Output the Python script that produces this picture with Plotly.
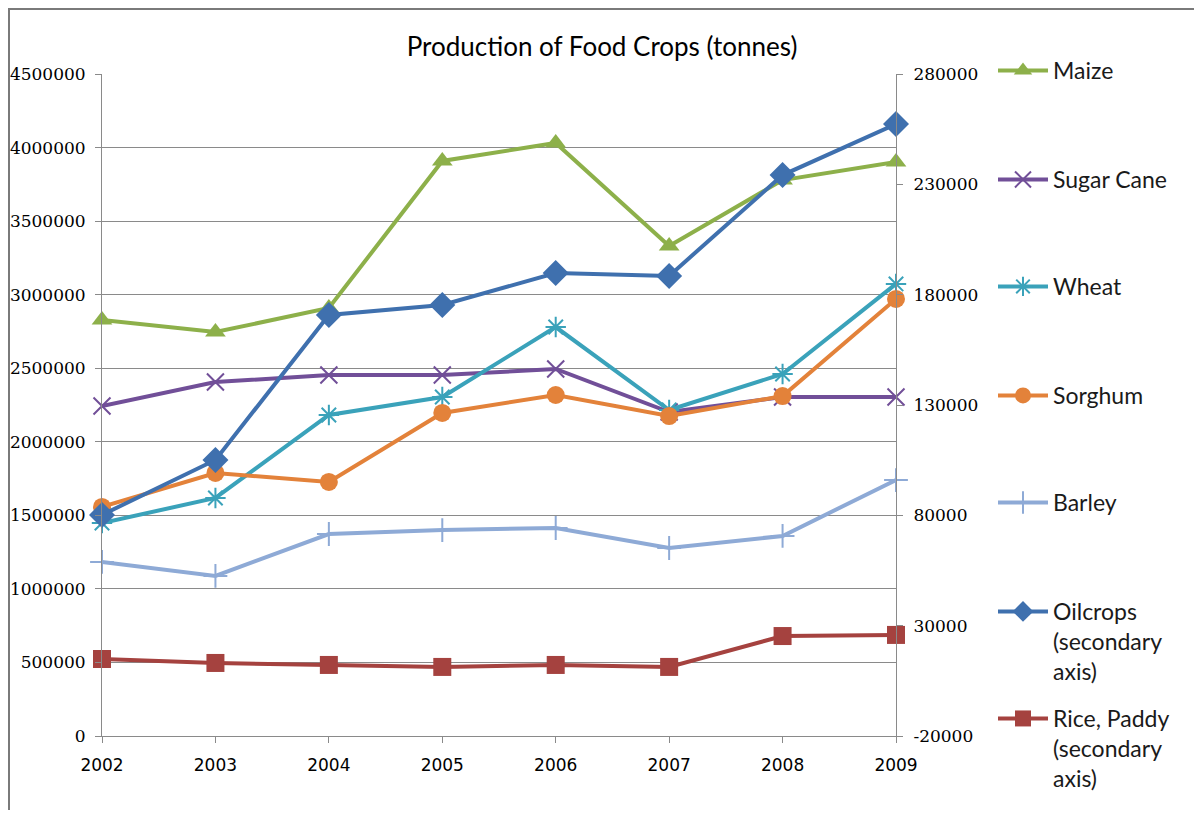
import plotly.graph_objects as go

# Data
years = [2002, 2003, 2004, 2005, 2006, 2007, 2008, 2009]

maize = [2828000, 2746000, 2909000, 3909000, 4031000, 3331000, 3779000, 3902000]
sugar_cane = [2243000, 2406000, 2454000, 2454000, 2495000, 2202000, 2304000, 2304000]
wheat = [1448000, 1618000, 2182000, 2304000, 2780000, 2216000, 2461000, 3073000]
sorghum = [1557000, 1788000, 1727000, 2196000, 2318000, 2175000, 2311000, 2971000]
barley = [1183000, 1088000, 1373000, 1400000, 1414000, 1278000, 1360000, 1740000]

# secondary axis series
oilcrops = [80200, 105100, 170800, 175300, 189800, 188500, 234200, 257300]
rice_paddy = [14900, 13100, 12200, 11300, 12200, 11300, 25300, 25800]

primary_ticks = list(range(0, 4500001, 500000))
secondary_ticks = list(range(-20000, 280001, 50000))

###################################
# Figure size / plot area (the page body adds 8px margin)
W, H = 1186, 802
L, R, T, B = 94, 298, 66, 74
PW, PH = W - L - R, H - T - B

tick_font = dict(family='DejaVu Serif', size=17, color='black')
legend_font = dict(family='Lato', size=23, color='#1a1a1a')

series = [
    ('Maize', maize, 'y', '#8DB04A', 'triangle-up', 18),
    ('Sugar Cane', sugar_cane, 'y', '#714F98', 'x-thin-open', 17),
    ('Wheat', wheat, 'y', '#3AA2BA', 'asterisk-open', 17),
    ('Sorghum', sorghum, 'y', '#E3823A', 'circle', 18),
    ('Barley', barley, 'y', '#8EAAD6', 'cross-thin-open', 17),
    ('Oilcrops<br>(secondary<br>axis)', oilcrops, 'y2', '#3F70AE', 'diamond', 20),
    ('Rice, Paddy<br>(secondary<br>axis)', rice_paddy, 'y2', '#A5423F', 'square', 18),
]

# legend rows (top of each entry, pixels from top of figure)
legend_tops = [41, 150, 257, 366, 473, 582, 689]

fig = go.Figure()
layout_legends = {}
for i, (name, vals, yax, color, symbol, msize) in enumerate(series):
    leg = 'legend' if i == 0 else f'legend{i + 1}'
    thin = symbol.endswith('-open')
    fig.add_trace(go.Scatter(x = years,
                             y = vals,
                             name = name,
                             yaxis = yax,
                             legend = leg,
                             mode = 'lines+markers',
                             line = dict(color = color, width = 4),
                             marker = dict(symbol = symbol, size = msize, color = color,
                                           line = dict(color = color, width = 2 if thin else 0)),
                             cliponaxis = False))
    layout_legends[leg] = dict(x = 985 / W, y = 1 - legend_tops[i] / H,
                               xref = 'container', yref = 'container',
                               xanchor = 'left', yanchor = 'top',
                               font = legend_font, valign = 'top',
                               bgcolor = 'rgba(0,0,0,0)', itemwidth = 50)

# outer chart border (left, top, right)
x0 = (1 - L) / PW
x1 = (1187 - L) / PW
ytop = 1 + (T - 1) / PH
ybot = -(B + 5) / PH

fig.update_layout(width = W, height = H,
                  margin = dict(l = L, r = R, t = T, b = B),
                  plot_bgcolor = 'white', paper_bgcolor = 'white',
                  title = dict(text = 'Production of Food Crops (tonnes)',
                               x = 594 / W, y = 1 - 39 / H,
                               xanchor = 'center', yanchor = 'middle',
                               font = dict(family = 'Lato', size = 26, color = 'black')),
                  showlegend = True,
                  shapes = [dict(type = 'path', xref = 'paper', yref = 'paper',
                                 path = f'M {x0},{ybot} L {x0},{ytop} L {x1},{ytop} L {x1},{ybot}',
                                 line = dict(color = '#7a7a7a', width = 2))],
                  xaxis = dict(range = [2002, 2009], tickvals = years,
                               showgrid = False, zeroline = False, automargin = False,
                               showline = True, linecolor = '#8a8a8a', linewidth = 1,
                               ticks = 'outside', ticklen = 6, tickcolor = '#8a8a8a',
                               ticklabelstandoff = 8,
                               tickfont = dict(family = 'DejaVu Sans', size = 17, color = 'black')),
                  yaxis = dict(range = [0, 4500000], tickvals = primary_ticks,
                               showgrid = True, gridcolor = '#8a8a8a', gridwidth = 1,
                               zeroline = False, showline = True, linecolor = '#8a8a8a',
                               automargin = False,
                               ticks = 'outside', ticklen = 6, tickcolor = '#8a8a8a',
                               ticklabelstandoff = 6,
                               tickformat = 'd', tickfont = tick_font),
                  yaxis2 = dict(range = [-20000, 280000], tickvals = secondary_ticks,
                                ticktext = [str(v) for v in secondary_ticks],
                                overlaying = 'y', side = 'right', automargin = False,
                                showgrid = False, zeroline = False,
                                showline = True, linecolor = '#8a8a8a',
                                ticks = 'outside', ticklen = 6, tickcolor = '#8a8a8a',
                                ticklabelstandoff = 7,
                                tickfont = tick_font),
                  **layout_legends)

fig.write_html("out.html")
